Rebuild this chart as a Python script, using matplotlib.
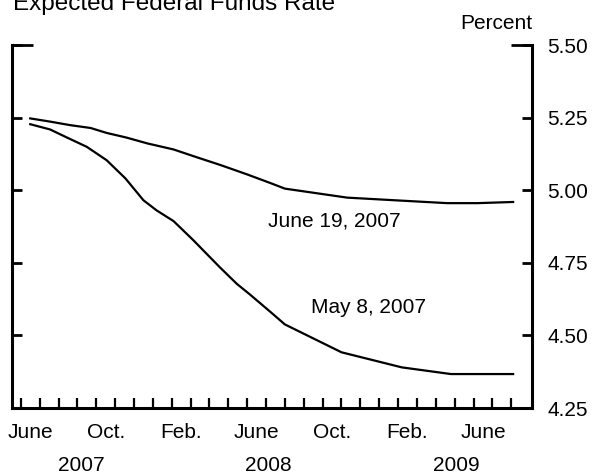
"""Expected federal funds rate, two futures-implied paths"""

# %% settings
import matplotlib

matplotlib.use("Agg")
import matplotlib.pyplot as plt

plt.rcParams["font.family"] = ["Liberation Sans", "DejaVu Sans"]
plt.rcParams["font.size"] = 15

# months counted from June 1, 2007 (0 = start of June 2007)
june19_months = [0.5, 1.55, 2.6, 3.7, 4.55, 5.6, 6.7, 8.1, 9.15, 10.6, 12.0, 13.2,
                 14.0, 17.3, 19.8, 22.6, 24.2, 26.1]
june19_rate = [5.248, 5.237, 5.225, 5.215, 5.198, 5.182, 5.162, 5.141, 5.118, 5.087,
               5.055, 5.026, 5.006, 4.975, 4.966, 4.956, 4.956, 4.960]

may8_months = [0.5, 1.55, 2.45, 3.5, 4.55, 5.55, 6.5, 7.2, 8.1, 9.15, 10.55, 11.45,
               12.15, 13.2, 14.0, 17.0, 20.2, 22.8, 26.1]
may8_rate = [5.228, 5.210, 5.182, 5.150, 5.104, 5.041, 4.966, 4.931, 4.894, 4.828,
             4.735, 4.678, 4.641, 4.583, 4.538, 4.442, 4.390, 4.367, 4.367]

month_label_pos = [0.5, 4.5, 8.5, 12.5, 16.5, 20.5, 24.5]
month_labels = ["June", "Oct.", "Feb.", "June", "Oct.", "Feb.", "June"]
year_pos = [3.2, 13.1, 23.1]
year_labels = ["2007", "2008", "2009"]
y_ticks = [4.25, 4.50, 4.75, 5.00, 5.25, 5.50]

# %% plot
fig = plt.figure(figsize=(5.94, 4.75), dpi=100)
ax = fig.add_axes([0.02104, 0.14105, 0.8746, 0.7636])

ax.plot(june19_months, june19_rate, color="black", lw=1.6)
ax.plot(may8_months, may8_rate, color="black", lw=1.6)

ax.set_xlim(-0.44, 27.1)
ax.set_ylim(4.25, 5.5)

ax.spines["top"].set_visible(False)
for side in ["left", "right", "bottom"]:
    ax.spines[side].set_linewidth(2.2)

# y axis: ticks both sides, labels right
ax.set_yticks(y_ticks)
ax.set_yticklabels([f"{v:.2f}" for v in y_ticks])
ax.yaxis.remove_overlapping_locs = False
ax.set_yticks([5.5], minor=True)
ax.tick_params(axis="y", which="major", direction="in", left=True, right=True,
               labelleft=False, labelright=True, length=7.5, width=2, pad=11)
ax.tick_params(axis="y", which="minor", direction="in", left=True, right=True,
               labelleft=False, labelright=False, length=15, width=2)

# x axis: monthly ticks, labels between ticks
ax.set_xticks(range(0, 27))
ax.tick_params(axis="x", which="major", direction="in", length=7.5, width=1.6,
               labelbottom=False)
ax.set_xticks(month_label_pos, minor=True)
ax.set_xticklabels(month_labels, minor=True)
ax.tick_params(axis="x", which="minor", length=0, pad=11)

for xp, lab in zip(year_pos, year_labels):
    ax.text(xp, -0.173, lab, transform=ax.get_xaxis_transform(),
            ha="center", va="baseline")

ax.text(16.62, 4.876, "June 19, 2007", ha="center", va="baseline")
ax.text(18.44, 4.577, "May 8, 2007", ha="center", va="baseline")

fig.text(13 / 594, 1 - 10 / 475, "Expected Federal Funds Rate",
         ha="left", va="baseline", fontsize=17.5)
fig.text(532 / 594, 1 - 29 / 475, "Percent", ha="right", va="baseline")

# %% save plot
fig.savefig("out.png", dpi=100)
